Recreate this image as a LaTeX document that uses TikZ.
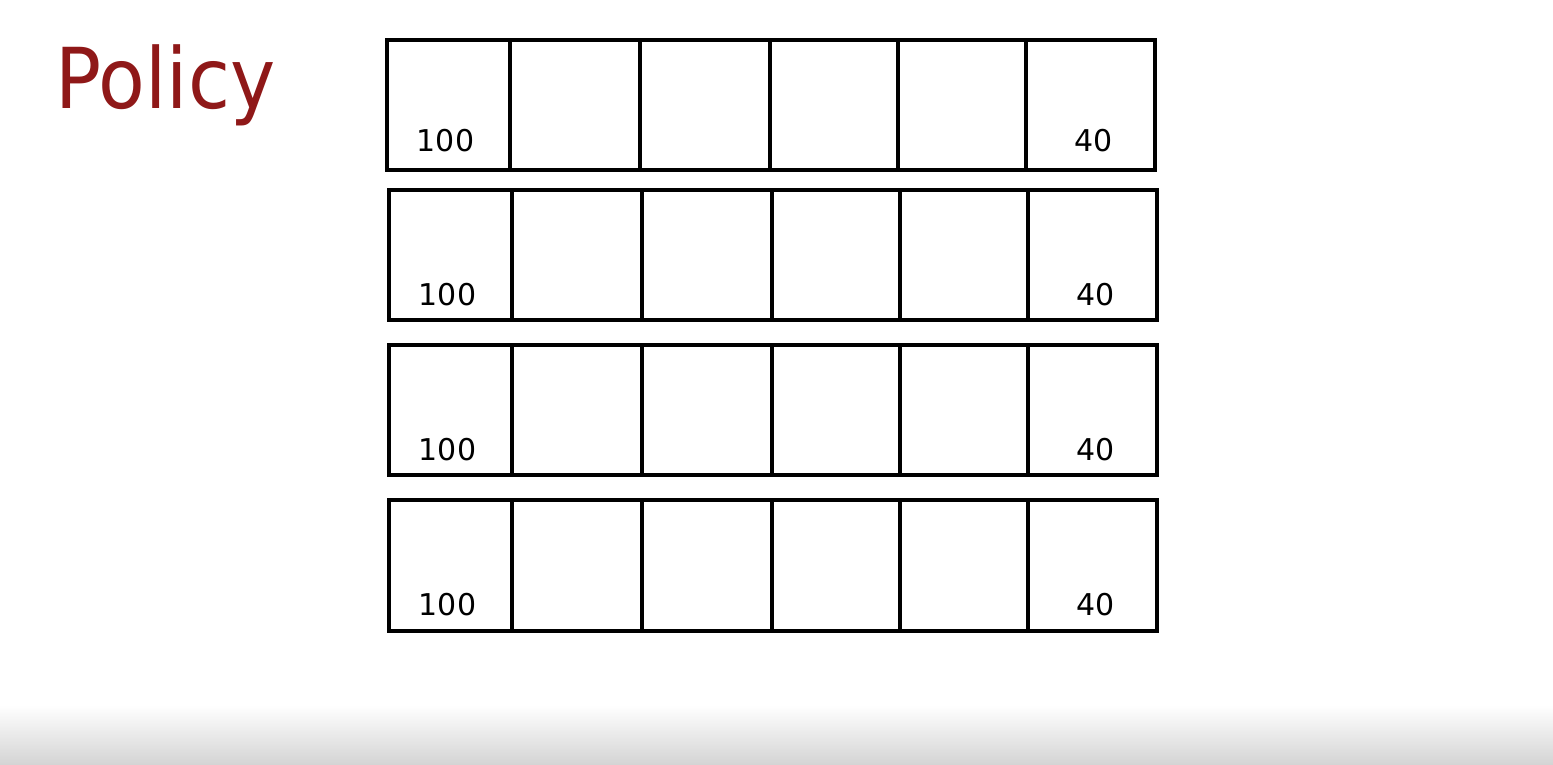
\documentclass[tikz,border=0pt]{standalone}
\usepackage{fontspec}
\setmainfont{DejaVu Sans}
\newfontfamily\titlefont[FakeStretch=0.91]{DejaVu Sans}
\definecolor{policyred}{HTML}{8F1818}

\begin{document}
\begin{tikzpicture}[x=0.5pt,y=-0.5pt,
  cellbox/.style={draw=black, line width=1.8pt, inner sep=0pt},
  numlabel/.style={font=\fontsize{15}{17}\selectfont, anchor=base, inner sep=0pt}]
  \useasboundingbox (0,0) rectangle (1553,765);
  \shade[top color=white, bottom color=black!17] (0,705) rectangle (1553,765);
  \node[anchor=base west, text=policyred, font=\titlefont\fontsize{42}{48}\selectfont, inner sep=0pt] (title) at (55,109) {Policy};
  % four rows of six cells
  \foreach \r/\y/\h/\dx/\ly in {1/105/130/0/10, 2/255/130/2/8, 3/410/130/2/8, 4/565.5/131/2/8.5} {
    \foreach \c/\xa/\xb in {1/387/510, 2/510/640, 3/640/770, 4/770/898, 5/898/1026, 6/1026/1155} {
      \pgfmathsetmacro\w{(\xb-\xa)*0.5}
      \pgfmathsetmacro\hh{\h*0.5}
      \node[cellbox, minimum width=\w pt, minimum height=\hh pt] (cell-\r-\c) at ({(\xa+\xb)/2+\dx},\y) {};
    }
    \node[numlabel] (start-\r) at ([xshift=-1.5pt,yshift=\ly pt]cell-\r-1.south) {100};
    \node[numlabel] (end-\r) at ([xshift=1.5pt,yshift=\ly pt]cell-\r-6.south) {40};
  }
\end{tikzpicture}
\end{document}
